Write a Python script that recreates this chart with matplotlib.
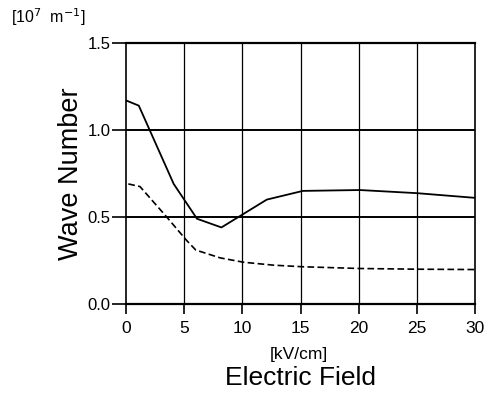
import matplotlib
matplotlib.use("Agg")
import matplotlib.pyplot as plt

plt.rcParams['font.family'] = ['Liberation Sans', 'DejaVu Sans']

field_solid = [0.0, 1.1, 4.1, 6.1, 8.2, 12.1, 15.2, 20.1, 25.0, 30.0]
wave_solid = [1.17, 1.14, 0.69, 0.49, 0.44, 0.60, 0.65, 0.655, 0.637, 0.61]

field_dashed = [0.2, 1.2, 3.5, 5.2, 6.0, 8.1, 10.1, 12.7, 15.2, 20.1, 25.0, 30.0]
wave_dashed = [0.69, 0.675, 0.50, 0.366, 0.31, 0.265, 0.24, 0.223, 0.214, 0.204, 0.20, 0.198]

x_ticks = [0, 5, 10, 15, 20, 25, 30]
y_ticks = [0.0, 0.5, 1.0, 1.5]
y_ticklabels = ["0.0", "0.5", "1.0", "1.5"]

fig = plt.figure(figsize=(4.98, 4.0), dpi=100)
ax = fig.add_axes([0.253, 0.24, 0.701, 0.6525])

ax.set_xlim(0, 30)
ax.set_ylim(0, 1.5)
ax.set_xticks(x_ticks)
ax.set_yticks(y_ticks)
ax.set_yticklabels(y_ticklabels)

for xv in x_ticks[1:-1]:
    ax.axvline(xv, color='black', lw=0.9, zorder=1)
for yv in y_ticks[1:-1]:
    ax.axhline(yv, color='black', lw=1.4, zorder=1)

for s in ax.spines.values():
    s.set_linewidth(1.2)
ax.spines['top'].set_linewidth(1.6)
ax.spines['bottom'].set_linewidth(1.6)

ax.plot(field_solid, wave_solid, color='black', lw=1.3, zorder=3)
ax.plot(field_dashed, wave_dashed, color='black', lw=1.2, ls=(0, (4, 2)), zorder=3)

ax.tick_params(axis='x', direction='out', length=7, width=1.2, labelsize=12.5, pad=5)
ax.tick_params(axis='y', direction='out', length=10, width=1.2, labelsize=12, pad=1)

ax.set_ylabel("Wave Number", fontsize=19.5, labelpad=3)
fig.text(0.6, 0.113, "[kV/cm]", fontsize=12.5, ha='center', va='center')
fig.text(0.603, 0.055, "Electric Field", fontsize=19, ha='center', va='center')
fig.text(0.022, 0.957, "[10$^{7}$  m$^{-1}$]", fontsize=11.5, ha='left', va='center')

fig.savefig("out.png", dpi=100)
